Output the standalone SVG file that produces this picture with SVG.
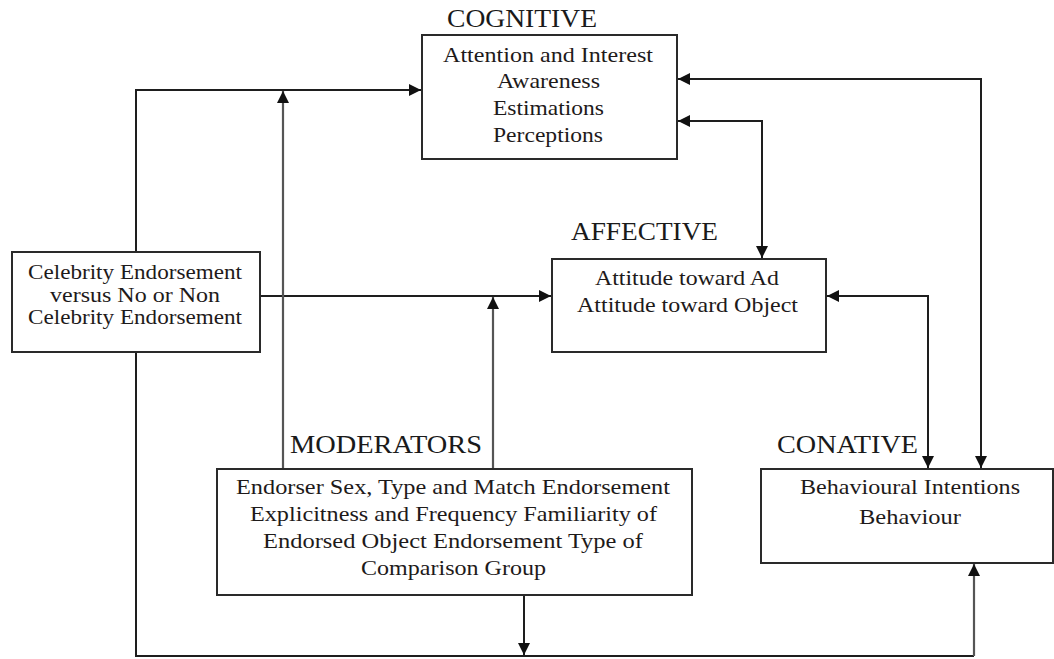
<svg xmlns="http://www.w3.org/2000/svg" width="1054" height="659" viewBox="0 0 1054 659">
  <style>
    .box { fill: #ffffff; stroke: #2a2a2a; stroke-width: 2; }
    .head { font-family: "Liberation Serif", "Times New Roman", serif; font-size: 25px; fill: #1a1a1a; }
    .body { font-family: "Liberation Serif", "Times New Roman", serif; font-size: 21px; fill: #1e1a1a; }
    .wire { fill: none; stroke: #1e1e1e; stroke-width: 2; }
    .wire.grey { stroke: #555555; stroke-width: 2.2; }
  </style>
  <defs>
    <marker id="arrow" markerUnits="userSpaceOnUse" markerWidth="13" markerHeight="12" refX="12" refY="6" orient="auto-start-reverse">
      <path d="M0,0 L12,6 L0,12 z" fill="#111111"/>
    </marker>
  </defs>

  <rect width="1054" height="659" fill="#ffffff"/>

  <!-- connectors -->
  <g id="connectors">
    <path class="wire" d="M136,252 V90 H421" marker-end="url(#arrow)"/>
    <path class="wire" d="M136,352 V656 H974"/>
    <path class="wire grey" d="M974,656 V564" marker-end="url(#arrow)"/>
    <path class="wire" d="M260,296 H551" marker-end="url(#arrow)"/>
    <path class="wire grey" d="M283,469 V91" marker-end="url(#arrow)"/>
    <path class="wire grey" d="M493,469 V297" marker-end="url(#arrow)"/>
    <path class="wire" d="M524,595 V655" marker-end="url(#arrow)"/>
    <path class="wire" d="M678,121 H762 V258" marker-start="url(#arrow)" marker-end="url(#arrow)"/>
    <path class="wire" d="M678,79 H981 V468" marker-start="url(#arrow)" marker-end="url(#arrow)"/>
    <path class="wire" d="M827,296 H928 V468" marker-start="url(#arrow)" marker-end="url(#arrow)"/>
  </g>

  <!-- cognitive stage -->
  <g id="cognitive">
    <text class="head" x="447" y="27" textLength="150" lengthAdjust="spacingAndGlyphs">COGNITIVE</text>
    <rect class="box" x="422" y="35" width="255" height="124"/>
    <text class="body" x="443" y="62" textLength="210" lengthAdjust="spacingAndGlyphs">Attention and Interest</text>
    <text class="body" x="497" y="88" textLength="103" lengthAdjust="spacingAndGlyphs">Awareness</text>
    <text class="body" x="493" y="115" textLength="111" lengthAdjust="spacingAndGlyphs">Estimations</text>
    <text class="body" x="493" y="141.5" textLength="110" lengthAdjust="spacingAndGlyphs">Perceptions</text>
  </g>

  <!-- endorsement condition -->
  <g id="celebrity">
    <rect class="box" x="12" y="252" width="248" height="100"/>
    <text class="body" x="28" y="278.5" textLength="214" lengthAdjust="spacingAndGlyphs">Celebrity Endorsement</text>
    <text class="body" x="50" y="301.5" textLength="170" lengthAdjust="spacingAndGlyphs">versus No or Non</text>
    <text class="body" x="28" y="323.5" textLength="214" lengthAdjust="spacingAndGlyphs">Celebrity Endorsement</text>
  </g>

  <!-- affective stage -->
  <g id="affective">
    <text class="head" x="571" y="240" textLength="147" lengthAdjust="spacingAndGlyphs">AFFECTIVE</text>
    <rect class="box" x="552" y="259" width="274" height="93"/>
    <text class="body" x="595" y="285" textLength="184" lengthAdjust="spacingAndGlyphs">Attitude toward Ad</text>
    <text class="body" x="577" y="311.5" textLength="221" lengthAdjust="spacingAndGlyphs">Attitude toward Object</text>
  </g>

  <!-- moderating factors -->
  <g id="moderators">
    <text class="head" x="290" y="453" textLength="192" lengthAdjust="spacingAndGlyphs">MODERATORS</text>
    <rect class="box" x="217" y="469" width="475" height="126"/>
    <text class="body" x="236" y="494" textLength="434" lengthAdjust="spacingAndGlyphs">Endorser Sex, Type and Match Endorsement</text>
    <text class="body" x="250" y="520.5" textLength="407" lengthAdjust="spacingAndGlyphs">Explicitness and Frequency Familiarity of</text>
    <text class="body" x="263" y="548" textLength="380" lengthAdjust="spacingAndGlyphs">Endorsed Object Endorsement Type of</text>
    <text class="body" x="361" y="575" textLength="185" lengthAdjust="spacingAndGlyphs">Comparison Group</text>
  </g>

  <!-- conative stage -->
  <g id="conative">
    <text class="head" x="777" y="453" textLength="141" lengthAdjust="spacingAndGlyphs">CONATIVE</text>
    <rect class="box" x="761" y="469" width="292" height="94"/>
    <text class="body" x="800" y="494" textLength="220" lengthAdjust="spacingAndGlyphs">Behavioural Intentions</text>
    <text class="body" x="859" y="523.5" textLength="102" lengthAdjust="spacingAndGlyphs">Behaviour</text>
  </g>
</svg>
